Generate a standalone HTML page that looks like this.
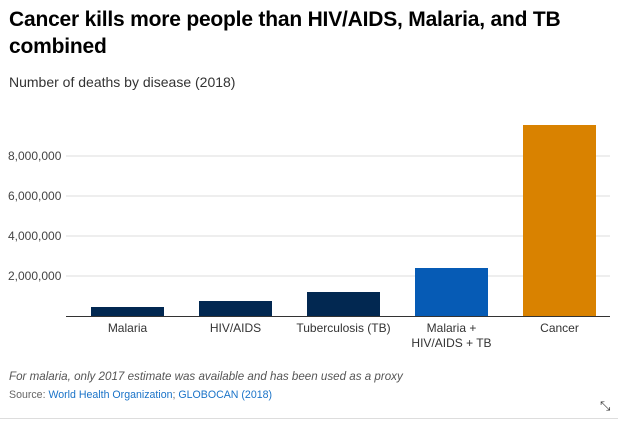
<!DOCTYPE html>
<html><head><meta charset="utf-8"><style>
body{margin:0;background:#fff;font-family:"Liberation Sans",Arial,sans-serif;}
.wrap{position:relative;width:618px;height:423px;overflow:hidden}
h1{position:absolute;left:9px;top:6px;margin:0;font-size:21px;line-height:27px;font-weight:bold;color:#000;width:600px;letter-spacing:-0.2px}
.sub{position:absolute;left:9px;top:74px;font-size:14px;color:#333}
.note{position:absolute;left:9px;top:370px;font-size:11.6px;font-style:italic;color:#555}
.src{position:absolute;left:9px;top:389px;font-size:10.6px;color:#666}
.src a{color:#1a73c8;text-decoration:none}
.hr{position:absolute;left:0;top:418px;width:618px;height:1px;background:#ddd}
</style></head><body><div class="wrap">
<h1>Cancer kills more people than HIV/AIDS, Malaria, and TB combined</h1>
<div class="sub">Number of deaths by disease (2018)</div>
<svg id="c" width="618" height="423" style="position:absolute;left:0;top:0"></svg>
<div class="note">For malaria, only 2017 estimate was available and has been used as a proxy</div>
<div class="src">Source: <a>World Health Organization</a>; <a>GLOBOCAN (2018)</a></div>
<div class="hr"></div>
<div style="position:absolute;left:600px;top:398px;font-size:13px;color:#333">⤡</div>
</div>
<script>
const categories=[["Malaria"],["HIV/AIDS"],["Tuberculosis (TB)"],["Malaria +","HIV/AIDS + TB"],["Cancer"]];
const values=[450000,750000,1200000,2400000,9550000];
const colors=["#022851","#022851","#022851","#065bb5","#d98200"];
const ticks=[2000000,4000000,6000000,8000000];
const tickLabels=["2,000,000","4,000,000","6,000,000","8,000,000"];
const NS="http://www.w3.org/2000/svg",svg=document.getElementById('c');
const y0=316,ppu=20/1000000,x0=64,band=108,bw=73,off=27;
const y=v=>y0-v*ppu, x=i=>x0+i*band+off;
function mk(t,a){const e=document.createElementNS(NS,t);for(const k in a)e.setAttribute(k,a[k]);svg.appendChild(e);return e;}
ticks.forEach((t,i)=>{
 const l=mk('line',{x1:66,x2:610,y1:y(t),y2:y(t),stroke:'#ddd'});
 
 
 const tx=mk('text',{x:8,y:y(t)+4,'font-size':12,fill:'#444','font-family':'Liberation Sans,sans-serif'});
 tx.textContent=tickLabels[i];
 
 
});
values.forEach((v,i)=>{
 const r=mk('rect',{x:x(i),y:y(v),width:bw,height:y0-y(v),fill:colors[i]});
 
 
 categories[i].forEach((s,j)=>{
  const t=mk('text',{x:x(i)+bw/2,y:332+j*15,'font-size':12,fill:'#333','text-anchor':'middle','font-family':'Liberation Sans,sans-serif'});
  t.textContent=s;
  
  
 });
});
const ax=mk('line',{x1:66,x2:610,y1:y0+0.5,y2:y0+0.5,stroke:'#333'});


</script></body></html>
